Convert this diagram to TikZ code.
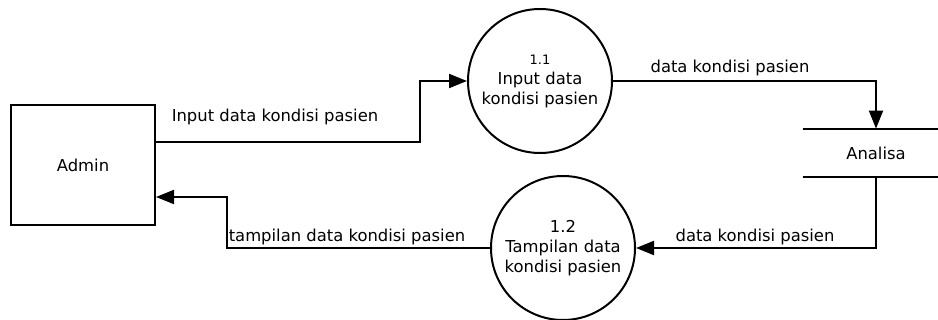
\documentclass[tikz,border=0pt]{standalone}
\usepackage{fontspec}
\setmainfont{DejaVu Sans}
\usetikzlibrary{arrows.meta}

\tikzset{
	entity/.style={draw, line width=1pt, minimum width=72pt, minimum height=60pt, inner sep=0pt},
	process/.style={draw, circle, line width=1pt, minimum size=72pt, inner sep=0pt, align=center},
	store/.style={minimum width=73pt, minimum height=24pt, inner sep=0pt},
	flow/.style={line width=1pt, -{Triangle[length=9pt, width=7pt]}},
	flowlabel/.style={inner sep=0pt}
}

\begin{document}
\begin{tikzpicture}[x=0.5pt, y=-0.5pt, font=\fontsize{8.2}{10}\selectfont]% {{{ DFD level 1
	\clip (0,0) rectangle (938,320);

	\node[entity] (admin) at (83,165){Admin};
	\node[process] (p11) at (540,81){{\fontsize{6.5}{10}\selectfont 1.1}\\Input data\\kondisi pasien};
	\node[process] (p12) at (563,248){1.2\\Tampilan data\\kondisi pasien};
	\node[store] (analisa) at (876,153){Analisa};
	\draw[line width=1pt] (analisa.north west) -- (analisa.north east);
	\draw[line width=1pt] (analisa.south west) -- (analisa.south east);

	\coordinate (b1) at (420,142);
	\coordinate (b2) at (227,197);

	\draw[flow] (b1 -| admin.east) -- (b1) |- (p11.west);
	\draw[flow] (p11.east) -| (analisa.north);
	\draw[flow] (analisa.south) |- (p12.east);
	\draw[flow] (p12.west) -| (b2) -- (b2 -| admin.east);

	\node[flowlabel] (l1) at (275,117){Input data kondisi pasien};
	\node[flowlabel] (l2) at (730,68){data kondisi pasien};
	\node[flowlabel] (l3) at (755,237){data kondisi pasien};
	\node[flowlabel] (l4) at (347,237){tampilan data kondisi pasien};
\end{tikzpicture}
\end{document}
